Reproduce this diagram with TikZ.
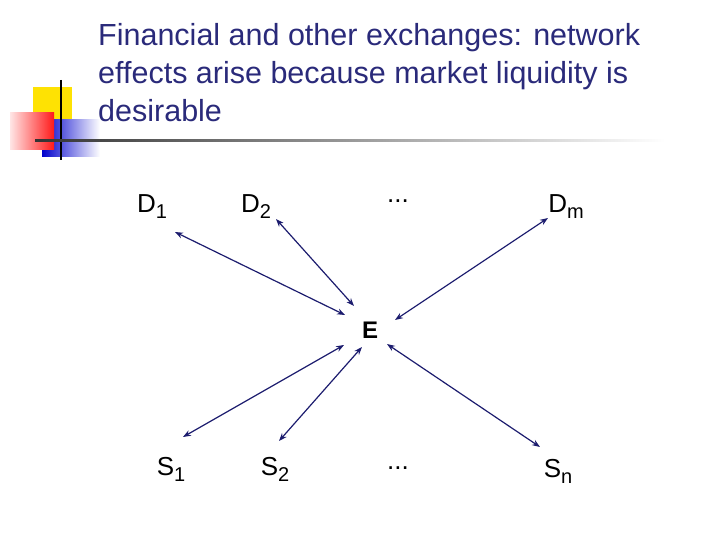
\documentclass[tikz,border=0pt]{standalone}
\usepackage{fontspec}
\setmainfont{Liberation Sans}
\usetikzlibrary{arrows.meta}
\definecolor{navy}{HTML}{1C1C6E}
\definecolor{ttl}{HTML}{2A2A7A}
\newcommand{\lsub}[1]{\raisebox{-6pt}{\fontsize{20}{22}\selectfont #1}}
\begin{document}
\begin{tikzpicture}[x=1pt,y=-1pt,
  lab/.style={font=\fontsize{26}{28}\selectfont, inner sep=0pt},
  arr/.style={navy, line width=1.2pt, {Stealth[length=8pt,width=6pt]}-{Stealth[length=8pt,width=6pt]}}]
\useasboundingbox (0,0) rectangle (720,540);
% logo
\fill[yellow!85!orange] (33,87) rectangle (72,125);
\shade[left color=blue!80!black, right color=white] (42,120) rectangle (100,157);
\shade[left color=red!10, right color=red!90] (10,113) rectangle (54,150);
\draw[line width=1.5pt] (61,80) -- (61,160);
\shade[left color=black!80, right color=white] (35,140) rectangle (665,142);
% title
\node[anchor=west, text=ttl, font=\fontsize{30.5}{38}\selectfont, align=left, inner sep=0pt] (t) at (98,73)
 {Financial and other exchanges: network\\effects arise because market liquidity is\\desirable};
% nodes
\node[lab] (d1) at (152,207) {D\lsub{1}};
\node[lab] (d2) at (256,207) {D\lsub{2}};
\node[lab] (dd) at (398,201) {...};
\node[lab] (dm) at (566,207) {D\lsub{m}};
\node[lab,font=\bfseries\fontsize{24}{26}\selectfont] (e) at (370,330) {E};
\node[lab] (s1) at (171,469) {S\lsub{1}};
\node[lab] (s2) at (275,469) {S\lsub{2}};
\node[lab] (sd) at (398,468) {...};
\node[lab] (sn) at (558,471) {S\lsub{n}};
\coordinate (a1) at (175,232); \coordinate (b1) at (345,315);
\coordinate (a2) at (276,219); \coordinate (b2) at (354,306);
\coordinate (a3) at (548,218); \coordinate (b3) at (395,320);
\coordinate (a4) at (183,437); \coordinate (b4) at (344,345);
\coordinate (a5) at (279,441); \coordinate (b5) at (362,347);
\coordinate (a6) at (540,447); \coordinate (b6) at (387,344);
\foreach \i in {1,...,6} \draw[arr] (a\i) -- (b\i);
\end{tikzpicture}
\end{document}
